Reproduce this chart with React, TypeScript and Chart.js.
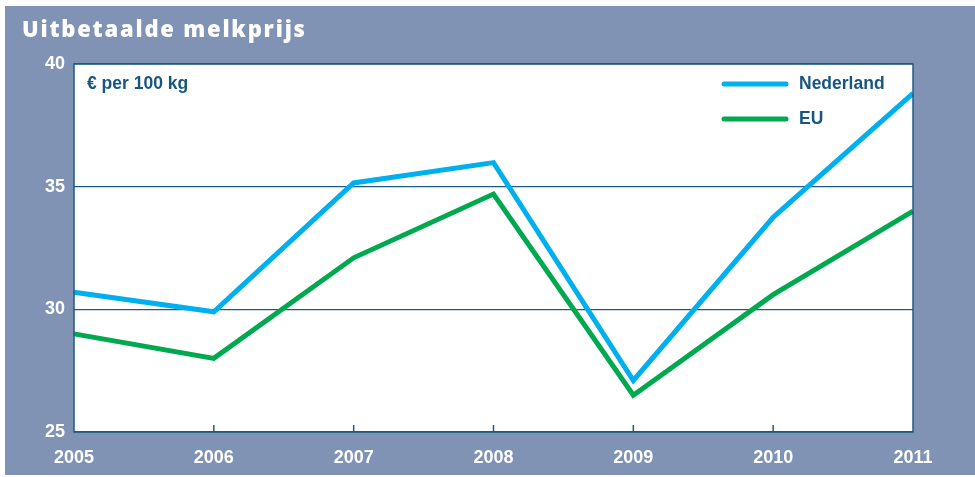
import React, { useEffect, useRef } from "react";
import { Chart, registerables } from "chart.js";

Chart.register(...registerables);

const years = ["2005", "2006", "2007", "2008", "2009", "2010", "2011"];
const nederland = [30.7, 29.9, 35.15, 35.98, 27.1, 33.75, 38.8];
const eu = [29.0, 28.0, 32.1, 34.7, 26.5, 30.6, 34.0];
const yTicks = [25, 30, 35, 40];
const title = "Uitbetaalde melkprijs";
const unitLabel = "€ per 100 kg";
const seriesNames = ["Nederland", "EU"];

const BG = "#8093b5";
const DARK = "#1d5b87";
const TEXT = "#175582";
const BLUE = "#00b0ee";
const GREEN = "#00a850";
const FONT = "Arial, 'Liberation Sans', sans-serif";

const decor = {
  id: "decor",
  beforeDraw(chart: any) {
    const { ctx, chartArea: a, width, height } = chart;
    ctx.save();
    ctx.fillStyle = "#ffffff";
    ctx.fillRect(0, 0, width, height);
    ctx.fillStyle = BG;
    ctx.fillRect(5, 6, width - 5, height - 8);
    ctx.fillStyle = "#ffffff";
    ctx.fillRect(a.left, a.top, a.right - a.left, a.bottom - a.top);
    // title
    ctx.font = "800 22px 'Open Sans', Lato, sans-serif";
    const w = ctx.measureText(title).width;
    const sp = Math.max(0, (283 - w) / (title.length - 1));
    (ctx as any).letterSpacing = sp.toFixed(2) + "px";
    ctx.fillStyle = "#ffffff";
    ctx.textBaseline = "alphabetic";
    ctx.textAlign = "left";
    ctx.fillText(title, 22, 37);
    (ctx as any).letterSpacing = "0px";
    ctx.restore();
  },
  afterDatasetsDraw(chart: any) {
    const { ctx, chartArea: a } = chart;
    const xs = chart.scales.x;
    ctx.save();
    ctx.strokeStyle = DARK;
    ctx.lineWidth = 1.5;
    ctx.strokeRect(a.left, a.top, a.right - a.left, a.bottom - a.top);
    for (let i = 1; i < years.length - 1; i++) {
      const x = xs.getPixelForTick(i);
      ctx.beginPath();
      ctx.moveTo(x, a.bottom);
      ctx.lineTo(x, a.bottom - 7);
      ctx.stroke();
    }
    // unit label
    ctx.fillStyle = TEXT;
    ctx.font = "bold 17.5px " + FONT;
    ctx.textAlign = "left";
    ctx.textBaseline = "middle";
    ctx.fillText(unitLabel, a.left + 13, a.top + 20);
    // legend
    const colors = [BLUE, GREEN];
    seriesNames.forEach((name, i) => {
      const y = a.top + 20 + i * 35;
      ctx.strokeStyle = colors[i];
      ctx.lineWidth = 5;
      ctx.lineCap = "round";
      ctx.beginPath();
      ctx.moveTo(724, y);
      ctx.lineTo(786, y);
      ctx.stroke();
      ctx.fillStyle = TEXT;
      ctx.fillText(name, 799, y);
    });
    ctx.restore();
  },
};

export default function App() {
  const ref = useRef<HTMLCanvasElement>(null);
  useEffect(() => {
    document.body.style.margin = "0";
    const chart = new Chart(ref.current!, {
      type: "line",
      data: {
        labels: years,
        datasets: [
          {
            label: seriesNames[0],
            data: nederland,
            borderColor: BLUE,
            borderWidth: 5,
            pointRadius: 0,
            tension: 0,
            borderJoinStyle: "miter",
          },
          {
            label: seriesNames[1],
            data: eu,
            borderColor: GREEN,
            borderWidth: 5,
            pointRadius: 0,
            tension: 0,
            borderJoinStyle: "miter",
          },
        ],
      },
      options: {
        animation: false,
        responsive: false,
        layout: { padding: { top: 64, right: 62, left: 0, bottom: 0 } },
        plugins: { legend: { display: false }, tooltip: { enabled: false } },
        scales: {
          x: {
            offset: false,
            grid: { display: false, drawTicks: false },
            border: { display: false },
            ticks: {
              color: "#ffffff",
              font: { family: FONT, size: 18, weight: "bold" },
              padding: 15,
              maxRotation: 0,
              autoSkip: false,
            },
            afterFit(s: any) {
              s.height = 45;
            },
          },
          y: {
            min: 25,
            max: 40,
            afterBuildTicks(s: any) {
              s.ticks = yTicks.map((v) => ({ value: v }));
            },
            grid: { color: DARK, lineWidth: 1.2, drawTicks: false },
            border: { display: false },
            ticks: {
              color: "#ffffff",
              font: { family: FONT, size: 18, weight: "bold" },
              padding: 9,
            },
            afterFit(s: any) {
              s.width = 74;
            },
          },
        },
      },
      plugins: [decor],
    });
    return () => chart.destroy();
  }, []);
  return <canvas ref={ref} width={975} height={477} style={{ display: "block" }} />;
}
